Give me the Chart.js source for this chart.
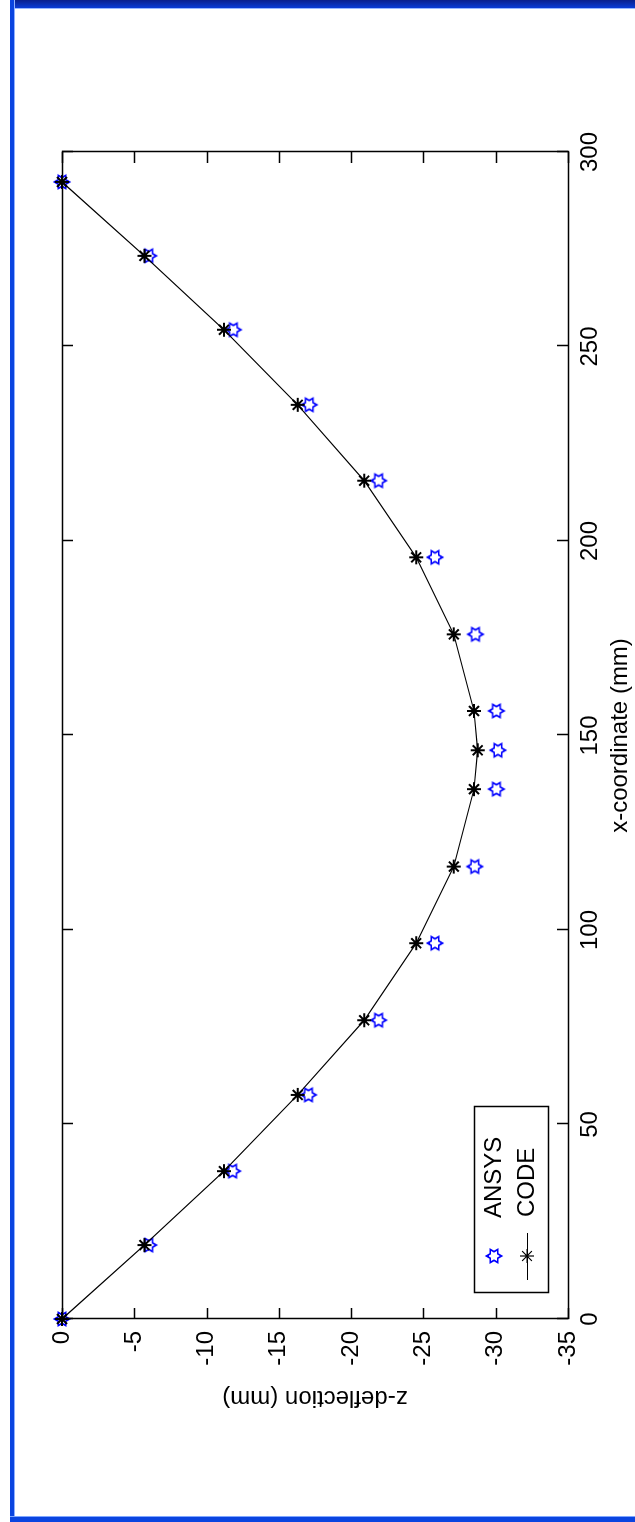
<!DOCTYPE html>
<html>
<head>
<meta charset="utf-8">
<script src="https://cdn.jsdelivr.net/npm/chart.js@4.4.1/dist/chart.umd.min.js"></script>
<style>
  html, body { margin: 0; padding: 0; background: #fff; }
  body { width: 635px; height: 1522px; position: relative; overflow: hidden; }
  /* chart is drawn landscape, then turned a quarter turn counter-clockwise */
  #plotBox {
    position: absolute; left: 0; top: 0;
    width: 1522px; height: 635px;
    transform-origin: 0 0;
    transform: translate(0, 1522px) rotate(-90deg);
  }
  .frame { position: absolute; }
  #frameTop { left: 10px; top: 0; width: 625px; height: 8px;
    background: linear-gradient(#0a1f8c, #0a3cd6); border-bottom: 1px solid #9ab8ff; }
  #frameLeft { left: 10px; top: 0; width: 4px; height: 1522px;
    background: #0a44e0; border-right: 1px solid #8fb0ff; }
  #frameBottom { left: 10px; top: 1516px; width: 625px; height: 5px;
    background: #0a44e0; border-top: 1px solid #7fa6ff; }
</style>
</head>
<body>
<div id="plotBox"><canvas id="deflectionChart" width="1522" height="635"></canvas></div>
<div class="frame" id="frameTop"></div>
<div class="frame" id="frameLeft"></div>
<div class="frame" id="frameBottom"></div>
<script>
// Data
const xCoord = [0, 19.0, 38.0, 57.6, 76.8, 96.6, 116.3, 136.2, 146.2, 156.3, 176.0, 195.8, 215.5, 235.0, 254.3, 273.3, 292.3];
const codeZ  = [0, -5.7, -11.2, -16.3, -20.9, -24.5, -27.1, -28.5, -28.75, -28.5, -27.1, -24.5, -20.9, -16.3, -11.2, -5.7, 0];
const ansysZ = [0, -6.0, -11.8, -17.05, -21.9, -25.8, -28.55, -30.05, -30.15, -30.05, -28.6, -25.8, -21.9, -17.1, -11.85, -6.0, 0];
const xTicks = [0, 50, 100, 150, 200, 250, 300];
const zTicks = [0, -5, -10, -15, -20, -25, -30, -35];

const seriesNames = ['ANSYS', 'CODE'];
const xTitle = 'x-coordinate (mm)';
const zTitle = 'z-deflection (mm)';

// Colors
const ansysColor = '#0000ff';
const codeColor = '#000000';
const axisFont = { family: "'Liberation Sans', Arial, sans-serif", size: 24 };

// hexagram marker (matlab 'h')
function makeHexagram(color) {
    const c = document.createElement('canvas');
    c.width = 20; c.height = 20;
    const g = c.getContext('2d');
    const R = 7.5, r = R / Math.sqrt(3);
    g.beginPath();
    for (let i = 0; i < 12; i++) {
        const a = -Math.PI / 2 + i * Math.PI / 6;
        const rad = i % 2 === 0 ? R : r;
        const px = 10 + rad * Math.cos(a), py = 10 + rad * Math.sin(a);
        if (i === 0) g.moveTo(px, py); else g.lineTo(px, py);
    }
    g.closePath();
    g.lineWidth = 1.7;
    g.strokeStyle = color;
    g.stroke();
    return c;
}
const hexMarker = makeHexagram(ansysColor);

const toPoints = (xs, ys) => xs.map((x, i) => ({ x: x, y: ys[i] }));

// box with inward ticks on all four sides
const boxTicks = {
    id: 'boxTicks',
    afterDraw: (chart) => {
        const ctx = chart.ctx;
        const a = chart.chartArea;
        const xs = chart.scales.x, ys = chart.scales.y;
        const len = 11;
        ctx.save();
        ctx.strokeStyle = '#000';
        ctx.lineWidth = 1.5;
        ctx.strokeRect(a.left + 0.5, a.top + 0.5, a.right - a.left, a.bottom - a.top);
        ctx.beginPath();
        xTicks.forEach(v => {
            const p = Math.round(xs.getPixelForValue(v)) + 0.5;
            ctx.moveTo(p, a.bottom); ctx.lineTo(p, a.bottom - len);
            ctx.moveTo(p, a.top); ctx.lineTo(p, a.top + len);
        });
        zTicks.forEach(v => {
            const p = Math.round(ys.getPixelForValue(v)) + 0.5;
            ctx.moveTo(a.left, p); ctx.lineTo(a.left + len, p);
            ctx.moveTo(a.right, p); ctx.lineTo(a.right - len, p);
        });
        ctx.stroke();
        ctx.restore();
    }
};

// matlab style legend, inside the axes
const boxLegend = {
    id: 'boxLegend',
    afterDraw: (chart) => {
        const ctx = chart.ctx;
        const a = chart.chartArea;
        const bx = a.left + 26, by = 474, bw = 186, bh = 74;
        ctx.save();
        ctx.fillStyle = '#fff';
        ctx.fillRect(bx, by, bw, bh);
        ctx.strokeStyle = '#000';
        ctx.lineWidth = 1.5;
        ctx.strokeRect(bx + 0.5, by + 0.5, bw, bh);

        const mx = bx + 37;
        const rows = [by + 20, by + 53];
        // ANSYS
        ctx.drawImage(hexMarker, mx - 10, rows[0] - 10);
        // CODE
        ctx.beginPath();
        ctx.moveTo(mx - 24, rows[1] + 0.5);
        ctx.lineTo(mx + 23, rows[1] + 0.5);
        ctx.strokeStyle = codeColor;
        ctx.lineWidth = 1.2;
        ctx.stroke();
        Chart.helpers.drawPoint(ctx, { pointStyle: 'star', radius: 7, rotation: 0, borderWidth: 2 }, mx, rows[1]);

        ctx.fillStyle = '#000';
        ctx.font = "24px 'Liberation Sans', Arial, sans-serif";
        ctx.textAlign = 'left';
        ctx.textBaseline = 'middle';
        ctx.fillText(seriesNames[0], bx + 75, rows[0]);
        ctx.fillText(seriesNames[1], bx + 76, rows[1]);
        ctx.restore();
    }
};

const ctx = document.getElementById('deflectionChart').getContext('2d');
new Chart(ctx, {
    type: 'scatter',
    data: {
        datasets: [{
            label: seriesNames[0],
            data: toPoints(xCoord, ansysZ),
            showLine: false,
            clip: false,
            pointStyle: hexMarker,
            pointRadius: 8,
            borderColor: ansysColor,
            backgroundColor: ansysColor,
            order: 1
        }, {
            label: seriesNames[1],
            data: toPoints(xCoord, codeZ),
            showLine: true,
            clip: false,
            borderColor: codeColor,
            borderWidth: 1.2,
            tension: 0,
            pointStyle: 'star',
            pointRadius: 7,
            pointBorderWidth: 2,
            pointBorderColor: codeColor,
            pointBackgroundColor: codeColor,
            order: 0
        }]
    },
    options: {
        responsive: false,
        animation: false,
        devicePixelRatio: 1,
        layout: { padding: { left: 100, right: 152, top: 62, bottom: 0 } },
        plugins: {
            legend: { display: false },
            tooltip: { enabled: false }
        },
        scales: {
            x: {
                type: 'linear',
                position: 'bottom',
                min: 0,
                max: 300,
                afterBuildTicks: (s) => { s.ticks = xTicks.map(v => ({ value: v })); },
                ticks: { color: '#000', font: axisFont, padding: 8, maxRotation: 0 },
                grid: { display: false, drawTicks: false },
                border: { display: false },
                title: { display: true, text: xTitle, color: '#000', font: axisFont, padding: { top: 0, bottom: 0 } },
                afterFit: (s) => { s.height = 67; }
            },
            y: {
                type: 'linear',
                min: -35,
                max: 0,
                afterBuildTicks: (s) => { s.ticks = zTicks.map(v => ({ value: v })); },
                ticks: { color: '#000', font: axisFont, padding: 12 },
                grid: { display: false, drawTicks: false },
                border: { display: false },
                title: { display: true, text: zTitle, color: '#000', font: axisFont, padding: { top: 10, bottom: 0 } },
                afterFit: (s) => { s.width = 103; }
            }
        }
    },
    plugins: [boxTicks, boxLegend]
});
</script>
</body>
</html>
